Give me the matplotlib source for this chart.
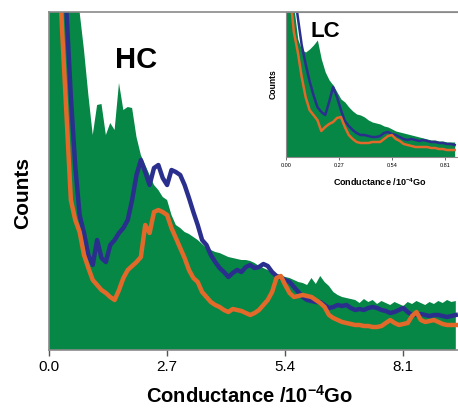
import numpy as np
import matplotlib
matplotlib.use("Agg")
import matplotlib.pyplot as plt

plt.rcParams['font.family'] = ['Liberation Sans', 'DejaVu Sans']
plt.rcParams['mathtext.fontset'] = 'custom'
plt.rcParams['mathtext.rm'] = 'Liberation Sans:bold'
plt.rcParams['mathtext.bf'] = 'Liberation Sans:bold'
plt.rcParams['mathtext.default'] = 'bf'

# ---------------- data (HC, main panel) ----------------
hc_step = 0.1  # bin width, units of 10^-4 Go
hc_green = [420, 420, 420, 420, 420, 400, 380, 338, 300, 255,
            215, 245, 246, 215, 227, 220, 267, 240, 243, 242,
            213, 195, 185, 175, 165, 160, 153, 150, 135, 125,
            122, 118, 116, 113, 110, 106, 102, 100, 98, 97,
            95, 93, 92, 91, 90, 90, 89, 87, 84, 82,
            80, 78, 76, 75, 73, 72, 70, 68, 67, 65,
            72, 66, 74, 68, 64, 58, 55, 53, 52, 51,
            50, 47, 51, 48, 50, 46, 49, 47, 45, 48,
            46, 44, 48, 46, 49, 47, 45, 48, 46, 49,
            47, 50, 48, 49]
hc_blue = [600, 560, 500, 420, 338, 253, 184, 135, 117, 95,
           85, 110, 92, 88, 105, 110, 117, 122, 130, 150,
           175, 190, 178, 165, 182, 185, 172, 165, 180, 178,
           175, 165, 152, 138, 125, 110, 105, 95, 88, 82,
           78, 73, 77, 80, 78, 83, 85, 82, 83, 86,
           84, 78, 74, 72, 70, 68, 63, 58, 53, 50,
           49, 48, 48, 45, 42, 43, 45, 44, 45, 42,
           40, 41, 40, 42, 43, 42, 40, 39, 37, 38,
           40, 42, 38, 35, 35, 36, 35, 34, 35, 35,
           34, 33, 34, 35]
hc_orange = [600, 520, 420, 319, 235, 150, 130, 118, 95, 82,
             70, 65, 60, 57, 53, 50, 60, 72, 80, 84,
             88, 93, 125, 117, 138, 140, 138, 135, 122, 112,
             102, 92, 80, 72, 68, 58, 53, 48, 45, 43,
             40, 38, 41, 40, 39, 37, 35, 37, 40, 45,
             50, 58, 72, 74, 65, 57, 53, 54, 55, 54,
             53, 50, 47, 43, 35, 32, 30, 28, 27, 26,
             25, 25, 24, 24, 23, 23, 24, 27, 30, 27,
             25, 26, 27, 34, 38, 30, 28, 29, 30, 28,
             26, 25, 25, 25]
hc_ticks = [0.0, 2.7, 5.4, 8.1]
hc_ticklabels = ["0.0", "2.7", "5.4", "8.1"]

# ---------------- data (LC, inset) ----------------
lc_step = 0.02
lc_green = [200, 200, 150, 118, 107, 105, 108, 112, 117, 98,
            85, 77, 72, 65, 58, 55, 50, 46, 43, 42,
            40, 37, 35, 34, 33, 31, 30, 28, 26, 25,
            24, 23, 22, 21, 20, 19, 18, 17, 17, 16,
            16, 15, 15, 15]
lc_blue = [200, 200, 170, 140, 112, 93, 76, 62, 50, 45,
           42, 55, 70, 60, 47, 36, 31, 27, 24, 22,
           22, 21, 20, 20, 21, 24, 25, 23, 22, 20,
           18, 17, 18, 17, 16, 17, 16, 15, 15, 14,
           14, 13, 13, 12]
lc_orange = [200, 165, 125, 105, 80, 60, 47, 42, 37, 26,
             30, 33, 35, 39, 40, 30, 22, 18, 15, 14,
             14, 14, 15, 15, 15, 18, 21, 22, 18, 16,
             13, 12, 11, 10, 10, 10, 10, 9, 9, 8,
             8, 7, 7, 7]
lc_ticks = [0.0, 0.27, 0.54, 0.81]
lc_ticklabels = ["0.00", "0.27", "0.54", "0.81"]

GREEN = "#068746"
BLUE = "#2a2f8e"
ORANGE = "#e2692a"
SPINE = "#8a8a8a"

W, H = 458, 408
fig = plt.figure(figsize=(W / 100, H / 100), dpi=100)

# ---- main axes ----
ax = fig.add_axes([49 / W, (H - 350) / H, (W - 49) / W, 338 / H])
x_hc = np.arange(len(hc_green)) * hc_step
ax.fill_between(x_hc, 0, hc_green, color=GREEN, lw=0)
ax.plot(x_hc, hc_blue, color=BLUE, lw=3.2, solid_joinstyle="round")
ax.plot(x_hc, hc_orange, color=ORANGE, lw=3.2, solid_joinstyle="round")
ax.set_xlim(0, 9.35)
ax.set_ylim(0, 338)
ax.set_yticks([])
ax.set_xticks(hc_ticks)
ax.set_xticklabels(hc_ticklabels, fontsize=11)
ax.tick_params(axis="x", length=4, width=1, color="#555555", pad=3)
for s in ["top", "left", "bottom"]:
    ax.spines[s].set_color(SPINE)
    ax.spines[s].set_linewidth(1.2)
ax.spines["right"].set_visible(False)
ax.set_xlabel("Conductance /10$^{-4}$Go", fontsize=14.5, fontweight="bold")
ax.xaxis.set_label_coords(0.489, -0.104)
ax.set_ylabel("Counts", fontsize=15, fontweight="bold")
ax.yaxis.set_label_coords(-0.042, 0.464)
ax.text(1.98, 290, "HC", fontsize=21, fontweight="bold", ha="center", va="center")

# ---- inset ----
ins = fig.add_axes([286 / W, (H - 157) / H, (W - 286) / W, 145 / H])
ins.set_facecolor("white")
x_lc = np.arange(len(lc_green)) * lc_step
ins.fill_between(x_lc, 0, lc_green, color=GREEN, lw=0)
ins.plot(x_lc, lc_blue, color=BLUE, lw=1.8)
ins.plot(x_lc, lc_orange, color=ORANGE, lw=1.8)
ins.set_xlim(0, 0.877)
ins.set_ylim(0, 145)
ins.set_yticks([])
ins.set_xticks(lc_ticks)
ins.set_xticklabels(lc_ticklabels, fontsize=4)
ins.tick_params(axis="x", length=2, width=0.6, color="#555555", pad=2)
for s in ["top", "left", "bottom"]:
    ins.spines[s].set_color(SPINE)
    ins.spines[s].set_linewidth(0.8)
ins.spines["right"].set_visible(False)
ins.set_xlabel("Conductance /10$^{-4}$Go", fontsize=6.5, fontweight="bold")
ins.xaxis.set_label_coords(0.547, -0.131)
ins.set_ylabel("Counts", fontsize=6.2, fontweight="bold", labelpad=6)
ins.text(0.2, 125, "LC", fontsize=16, fontweight="bold", ha="center", va="center")

fig.savefig("out.png", dpi=100)
